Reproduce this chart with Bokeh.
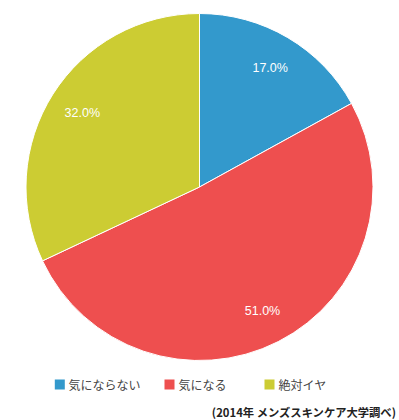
import math
from bokeh.plotting import figure
from bokeh.models import Range1d, ColumnDataSource
from bokeh.core.properties import value
from bokeh.embed import file_html
from bokeh.resources import INLINE

categories = ["気にならない", "気になる", "絶対イヤ"]
values = [17.0, 51.0, 32.0]
colors = ["#3399CC", "#EE4F4F", "#CCCC33"]
source_note = "(2014年 メンズスキンケア大学調べ)"

W, H = 399, 420
cx, cy = 199, H - 186.5
R = 173.5

total = sum(values)
starts, ends, lx, ly, labels = [], [], [], [], []
ang = math.pi / 2
for v in values:
    sweep = 2 * math.pi * v / total
    end = ang
    start = ang - sweep
    starts.append(start)
    ends.append(end)
    mid = (start + end) / 2
    lx.append(cx + 0.8 * R * math.cos(mid))
    ly.append(cy + 0.8 * R * math.sin(mid))
    labels.append(f"{v:.1f}%")
    ang = start

src = ColumnDataSource(dict(start=starts, end=ends, color=colors,
                            lx=lx, ly=ly, label=labels, cat=categories))

p = figure(width=W, height=H, output_backend="svg", toolbar_location=None,
           x_range=Range1d(0, W), y_range=Range1d(0, H),
           x_axis_type=None, y_axis_type=None, min_border=0)
p.outline_line_color = None
p.grid.visible = False
p.background_fill_color = "white"
p.border_fill_color = "white"

p.wedge(x=cx, y=cy, radius=R, start_angle="start", end_angle="end",
        fill_color="color", line_color="white", line_width=1, source=src)

p.text(x="lx", y="ly", text="label", source=src, text_color="white",
       text_font=value("Liberation Sans"), text_font_size="12.5px",
       text_align="center", text_baseline="middle")

# legend
leg_sq_x = [59.3, 169, 269]
leg_tx_x = [68, 178, 278]
leg_y = H - 384
p.scatter(x=leg_sq_x, y=[leg_y] * 3, marker="square", size=10,
          fill_color=colors, line_color=None)
p.text(x=leg_tx_x, y=[leg_y] * 3, text=categories, text_color="#444444",
       text_font=value("Noto Sans CJK JP"), text_font_size="12px",
       text_align="left", text_baseline="middle")

p.text(x=[396], y=[H - 411], text=[source_note], text_color="#222222",
       text_font=value("Noto Sans CJK JP"), text_font_size="11.3px",
       text_font_style="bold", text_align="right", text_baseline="middle")

open("out.html", "w").write(file_html(p, INLINE))
